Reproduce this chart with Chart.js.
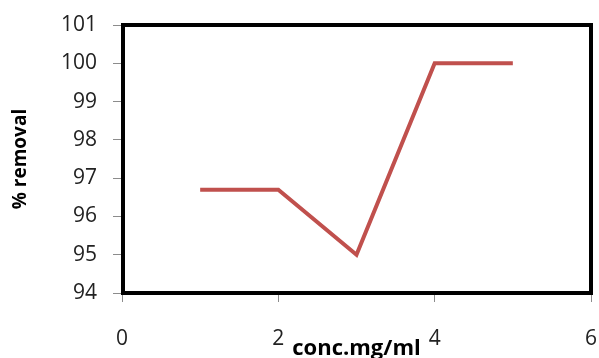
<!DOCTYPE html>
<html>
<head>
<meta charset="utf-8">
<script src="https://cdn.jsdelivr.net/npm/chart.js@4/dist/chart.umd.min.js"></script>
<style>
  html, body { margin: 0; padding: 0; background: #fff; }
  #wrap { width: 599px; height: 358px; }
</style>
</head>
<body>
<div id="wrap"><canvas id="c" width="599" height="358"></canvas></div>
<script>
// Concentration (mg/ml) and removal percentage
const concentrations = [1, 2, 3, 4, 5];
const removalPercent = [96.7, 96.7, 95, 100, 100];
const xTickValues = [0, 2, 4, 6];
const yTickValues = [94, 95, 96, 97, 98, 99, 100, 101];

const points = concentrations.map((c, i) => ({ x: c, y: removalPercent[i] }));

const FONT = "'Open Sans', 'Noto Sans', sans-serif";

// Heavy black frame around the plot area
const framePlugin = {
  id: 'frame',
  afterDatasetsDraw(chart) {
    const { ctx, chartArea: a } = chart;
    ctx.save();
    ctx.strokeStyle = '#000';
    ctx.lineWidth = 4;
    ctx.strokeRect(a.left + 1, a.top, a.right - a.left - 1, a.bottom - a.top);
    ctx.restore();
  }
};

new Chart(document.getElementById('c'), {
  type: 'line',
  data: {
    datasets: [{
      data: points,
      borderColor: '#C0504D',
      borderWidth: 4,
      pointRadius: 0,
      tension: 0,
      fill: false,
      borderJoinStyle: 'miter'
    }]
  },
  options: {
    responsive: false,
    animation: false,
    devicePixelRatio: 1,
    layout: { padding: { top: 25, right: 8, left: 0, bottom: 0 } },
    plugins: { legend: { display: false }, tooltip: { enabled: false } },
    scales: {
      x: {
        type: 'linear',
        min: 0, max: 6,
        afterBuildTicks(scale) { scale.ticks = xTickValues.map(v => ({ value: v })); },
        afterFit(scale) {
          scale.height = 65;
          scale.paddingLeft = 0;
          scale.paddingRight = 0;
        },
        grid: { drawOnChartArea: false, drawTicks: true, tickLength: 9, tickColor: '#8c8c8c', tickWidth: 1 },
        border: { display: true, color: '#8c8c8c', width: 1 },
        ticks: { color: '#222', font: { family: FONT, size: 21 }, padding: 24, maxRotation: 0, autoSkip: false },
        title: {
          display: true, text: 'conc.mg/ml', color: '#000',
          font: { family: FONT, size: 22, weight: 'bold' },
          padding: { top: 0, bottom: -4 }
        }
      },
      y: {
        min: 94, max: 101,
        afterBuildTicks(scale) { scale.ticks = yTickValues.map(v => ({ value: v })); },
        afterFit(scale) {
          scale.width = 122;
          scale.paddingTop = 0;
          scale.paddingBottom = 0;
        },
        grid: { drawOnChartArea: false, drawTicks: true, tickLength: 9, tickColor: '#8c8c8c', tickWidth: 1 },
        border: { display: true, color: '#8c8c8c', width: 1 },
        ticks: { color: '#222', font: { family: FONT, size: 21 }, padding: 16 },
        title: {
          display: true, text: '% removal', color: '#000',
          font: { family: FONT, size: 19, weight: 'bold' },
          padding: { top: 9, bottom: 0 }
        }
      }
    }
  },
  plugins: [framePlugin]
});
</script>
</body>
</html>
